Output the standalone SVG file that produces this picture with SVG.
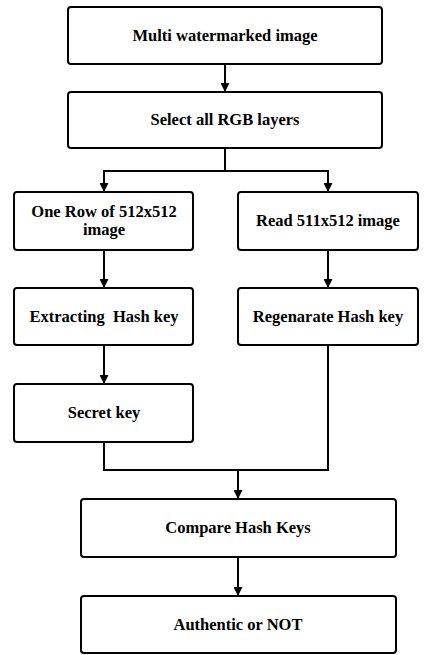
<svg xmlns="http://www.w3.org/2000/svg" width="428" height="655" viewBox="0 0 428 655">
<style>
.box{fill:#fff;stroke:#000;stroke-width:2}
.t{font-family:"Liberation Serif",serif;font-weight:bold;font-size:16.5px;text-anchor:middle;fill:#000}
.c{fill:none;stroke:#000;stroke-width:2}
</style>
<defs>
<marker id="ah" viewBox="0 0 10 10" refX="10" refY="5" markerWidth="5" markerHeight="4.5" orient="auto" markerUnits="strokeWidth">
<path d="M0,0 L10,5 L0,10 z" fill="#000"/>
</marker>
</defs>
<rect width="428" height="655" fill="#fff"/>
<g id="connectors">
<path class="c" d="M225,64 V92" marker-end="url(#ah)"/>
<path class="c" d="M225,148 V171 H104 V192" marker-end="url(#ah)"/>
<path class="c" d="M225,171 H328 V192" marker-end="url(#ah)"/>
<path class="c" d="M104,250 V288" marker-end="url(#ah)"/>
<path class="c" d="M328,250 V288" marker-end="url(#ah)"/>
<path class="c" d="M104,345 V384" marker-end="url(#ah)"/>
<path class="c" d="M104,442 V470 H328 V345"/>
<path class="c" d="M238,470 V499" marker-end="url(#ah)"/>
<path class="c" d="M238,557 V596" marker-end="url(#ah)"/>
</g>
<g id="n1"><rect class="box" x="68" y="7" width="314" height="57" rx="3"/><text class="t" x="225" y="41">Multi watermarked image</text></g>
<g id="n2"><rect class="box" x="68" y="92" width="314" height="56" rx="3"/><text class="t" x="225" y="125">Select all RGB layers</text></g>
<g id="n3"><rect class="box" x="14" y="192" width="179" height="58" rx="3"/><text class="t" x="104" y="217">One Row of 512x512</text><text class="t" x="104" y="235">image</text></g>
<g id="n4"><rect class="box" x="238" y="192" width="180" height="58" rx="3"/><text class="t" x="328" y="226">Read 511x512 image</text></g>
<g id="n5"><rect class="box" x="14" y="288" width="179" height="57" rx="3"/><text class="t" x="104" y="322" xml:space="preserve">Extracting  Hash key</text></g>
<g id="n6"><rect class="box" x="238" y="288" width="180" height="57" rx="3"/><text class="t" x="328" y="322">Regenarate Hash key</text></g>
<g id="n7"><rect class="box" x="14" y="384" width="179" height="58" rx="3"/><text class="t" x="104" y="418">Secret key</text></g>
<g id="n8"><rect class="box" x="81" y="499" width="315" height="58" rx="3"/><text class="t" x="238" y="533">Compare Hash Keys</text></g>
<g id="n9"><rect class="box" x="81" y="596" width="315" height="57" rx="3"/><text class="t" x="238" y="630">Authentic or NOT</text></g>
</svg>
